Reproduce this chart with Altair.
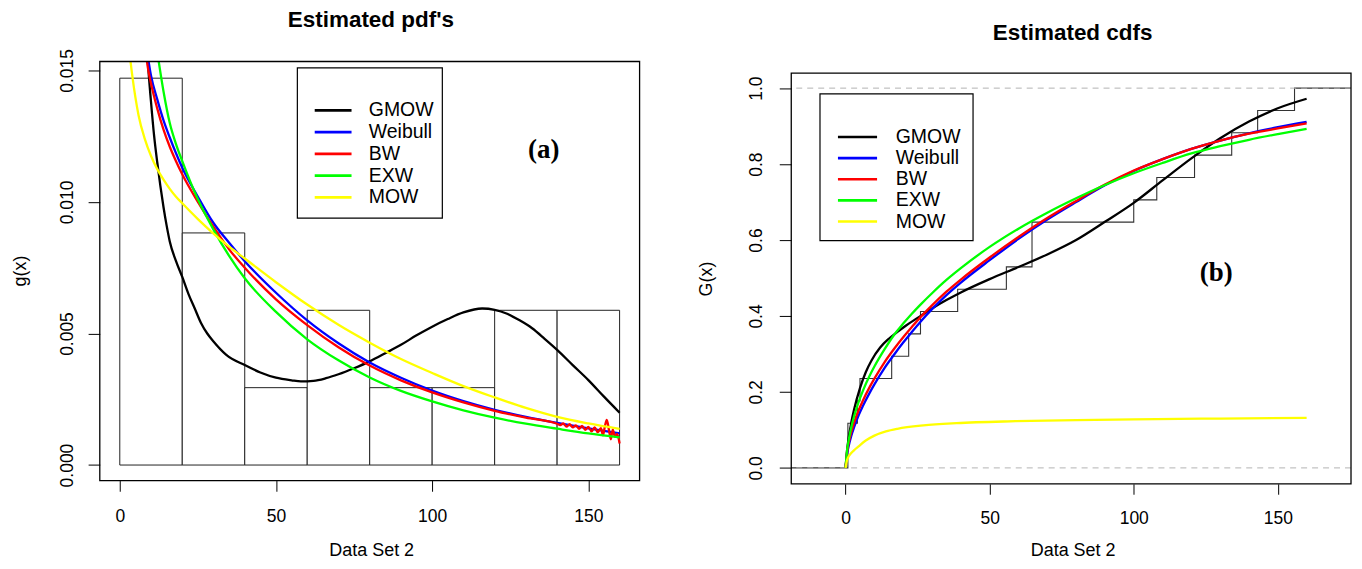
import altair as alt
import pandas as pd

FONT = "Liberation Sans"
SERIF = "Liberation Serif"

SERIES = ["GMOW", "Weibull", "BW", "EXW", "MOW"]
COLORS = ["#000000", "#0000ff", "#ff0000", "#00ff00", "#ffff00"]

# Data Set 2 (n = 17), read from the empirical cdf steps
sample = [0.8, 0.8, 4.1, 5.0, 16.0, 21.9, 26.0, 38.9, 55.8, 64.7, 64.7,
          100.0, 108.0, 121.1, 134.0, 143.0, 155.8]
bin_edges = [0, 20, 40, 60, 80, 100, 120, 140, 160]

# ---- estimated pdf curves (panel a) ----
pdf_gmow_x = [6, 8, 9, 10, 11, 12, 13, 14, 15, 16, 18, 20, 22, 24, 26, 28, 30, 34, 40, 45, 50, 55,
              58, 62, 66, 70, 75, 80, 85, 90, 95, 100, 105, 110, 116, 120, 124, 128, 132, 136,
              140, 145, 150, 155, 160]
pdf_gmow_y = [0.0220, 0.0175, 0.0153, 0.0138, 0.0125, 0.0115, 0.0106, 0.0098, 0.0091, 0.0085,
              0.00775, 0.00715, 0.0065, 0.00595, 0.0054, 0.0050, 0.0047, 0.0042, 0.0038, 0.00352,
              0.00332, 0.00322, 0.00318, 0.0032, 0.0033, 0.00345, 0.00368, 0.00394, 0.00425,
              0.00457, 0.00493, 0.00526, 0.00555, 0.0058, 0.00595, 0.0059, 0.00575, 0.0055,
              0.0052, 0.0048, 0.00438, 0.0038, 0.00323, 0.0026, 0.00199]

pdf_weib_x = [8, 9, 10, 12, 14, 16, 18, 20, 25, 30, 35, 40, 50, 60, 70, 80, 90, 100, 110, 120,
              130, 140, 150, 160]
pdf_weib_y = [0.0162, 0.0155, 0.0148, 0.0139, 0.0131, 0.01245, 0.01185, 0.0113, 0.0102, 0.0092,
              0.00845, 0.00775, 0.00655, 0.0055, 0.00463, 0.0039, 0.00332, 0.00283, 0.00243,
              0.0021, 0.00183, 0.0016, 0.00139, 0.0012]

pdf_bw_x = [8, 9, 10, 12, 14, 16, 18, 20, 25, 30, 35, 40, 50, 60, 70, 80, 90, 100, 110, 120, 130,
            140, 141, 142, 143, 144, 145, 146, 147, 148, 149, 150, 151, 152, 153, 154, 154.7,
            155.3, 155.9, 156.6, 157.2, 157.8, 158.5, 159.2, 160]
pdf_bw_y = [0.0160, 0.0151, 0.0145, 0.01355, 0.01275, 0.0121, 0.01155, 0.01105, 0.0100, 0.00905,
            0.0082, 0.0075, 0.0063, 0.00532, 0.00448, 0.00378, 0.00322, 0.00276, 0.00238,
            0.00206, 0.0018, 0.00157, 0.00152, 0.00158, 0.00146, 0.00155, 0.00143, 0.00151,
            0.00138, 0.00149, 0.00134, 0.00145, 0.00128, 0.00143, 0.00125, 0.0014, 0.00113,
            0.00148, 0.00172, 0.00133, 0.00098, 0.00135, 0.00108, 0.00118, 0.00082]

pdf_exw_x = [11, 12, 14, 16, 18, 20, 25, 30, 35, 40, 50, 60, 70, 80, 90, 100, 110, 120, 130, 140,
             150, 160]
pdf_exw_y = [0.0165, 0.0157, 0.0142, 0.0130, 0.0122, 0.01155, 0.0101, 0.00895, 0.00795, 0.0071,
             0.00582, 0.00478, 0.00398, 0.00333, 0.00282, 0.00242, 0.00208, 0.0018, 0.00157,
             0.00138, 0.0012, 0.00105]

pdf_mow_x = [2, 3, 4, 6, 8, 10, 12, 14, 16, 18, 20, 25, 30, 35, 40, 50, 60, 70, 80, 90, 100, 110,
             120, 130, 140, 150, 160]
pdf_mow_y = [0.0170, 0.0158, 0.0148, 0.0133, 0.0124, 0.01175, 0.01125, 0.01085, 0.0105, 0.0102,
             0.00995, 0.00935, 0.0088, 0.0083, 0.00785, 0.00695, 0.0061, 0.00533, 0.00465,
             0.00403, 0.0035, 0.003, 0.00257, 0.00217, 0.00183, 0.00158, 0.00137]

# ---- estimated cdf curves (panel b) ----
cdf_gmow_x = [0, 0.5, 1, 2, 3, 5, 7, 9, 12, 15, 18, 21, 25, 30, 35, 40, 50, 60, 70, 80, 90, 100,
              110, 120, 130, 140, 150, 160]
cdf_gmow_y = [0, 0.045, 0.075, 0.12, 0.155, 0.21, 0.252, 0.283, 0.317, 0.34, 0.358, 0.375, 0.395,
              0.42, 0.442, 0.462, 0.497, 0.529, 0.562, 0.6, 0.648, 0.698, 0.757, 0.815, 0.868,
              0.912, 0.947, 0.972]

cdf_weib_x = [0, 0.5, 1, 2, 3, 4.6, 6, 8.3, 10, 13.5, 17, 20, 23, 26, 30, 35, 40, 50, 60, 70, 80,
              90, 100, 110, 120, 130, 140, 150, 160]
cdf_weib_y = [0, 0.035, 0.055, 0.085, 0.108, 0.14, 0.163, 0.197, 0.22, 0.263, 0.30, 0.33, 0.358,
              0.385, 0.418, 0.455, 0.488, 0.547, 0.603, 0.654, 0.70, 0.744, 0.782, 0.813, 0.84,
              0.862, 0.881, 0.897, 0.911]

cdf_bw_x = cdf_weib_x
cdf_bw_y = [0, 0.04, 0.063, 0.095, 0.12, 0.153, 0.177, 0.212, 0.235, 0.278, 0.315, 0.344, 0.371,
            0.397, 0.428, 0.464, 0.496, 0.554, 0.608, 0.658, 0.703, 0.746, 0.783, 0.813, 0.84,
            0.862, 0.88, 0.894, 0.907]

cdf_exw_x = cdf_weib_x
cdf_exw_y = [0, 0.045, 0.07, 0.108, 0.137, 0.175, 0.203, 0.242, 0.267, 0.312, 0.352, 0.38, 0.406,
             0.43, 0.46, 0.495, 0.526, 0.582, 0.63, 0.672, 0.71, 0.745, 0.776, 0.803, 0.828,
             0.847, 0.864, 0.879, 0.893]

cdf_mow_x = [0, 0.5, 1.5, 3, 4.4, 7, 10, 14, 18, 27, 38.5, 59, 80, 100, 130, 160]
cdf_mow_y = [0, 0.02, 0.035, 0.047, 0.056, 0.072, 0.085, 0.096, 0.103, 0.112, 0.118, 0.123,
             0.126, 0.128, 0.13, 0.132]

pdf_curves = [(pdf_gmow_x, pdf_gmow_y), (pdf_weib_x, pdf_weib_y), (pdf_bw_x, pdf_bw_y),
              (pdf_exw_x, pdf_exw_y), (pdf_mow_x, pdf_mow_y)]
cdf_curves = [(cdf_gmow_x, cdf_gmow_y), (cdf_weib_x, cdf_weib_y), (cdf_bw_x, cdf_bw_y),
              (cdf_exw_x, cdf_exw_y), (cdf_mow_x, cdf_mow_y)]

# ---------------- layout constants ----------------
W1, H1 = 541, 420
W2, H2 = 561, 423.3
TOP2 = 11.7  # frame top of panel b inside its view
X1DOM = [-6.4, 166.4]
Y1DOM = [-0.00059, 0.01534]
X2DOM = [-18.85, 175.4]
Y2DOM = [-0.042, 1.0394]

one = pd.DataFrame({"k": [0]})
NOVIEW = alt.ViewBackground(stroke="transparent", strokeWidth=0)


def axis_x(title_x, title_y, tick, pad):
    return alt.Axis(values=[0, 50, 100, 150], title="Data Set 2", grid=False, domain=False,
                    tickSize=tick, tickColor="black", tickWidth=1, labelFont=FONT,
                    labelFontSize=17.5, labelColor="black", labelPadding=pad, labelFlush=False,
                    labelOverlap=False, titleFont=FONT, titleFontSize=18,
                    titleFontWeight="normal", titleColor="black", titleX=title_x,
                    titleY=title_y, titleAlign="center", titleBaseline="middle")


def axis_y(vals, fmt, title, title_x, title_y, tick, pad):
    return alt.Axis(values=vals, format=fmt, title=title, grid=False, domain=False,
                    tickSize=tick, tickColor="black", tickWidth=1, labelFont=FONT,
                    labelFontSize=17.5, labelColor="black", labelAngle=270, labelAlign="center",
                    labelBaseline="bottom", labelPadding=pad, labelOverlap=False,
                    titleFont=FONT, titleFontSize=18, titleFontWeight="normal",
                    titleColor="black", titleAngle=270, titleX=title_x, titleY=title_y,
                    titleAlign="center", titleBaseline="middle")


def text_mark(x, y, s, size, weight="normal", font=FONT, align="center"):
    return alt.Chart(one).mark_text(font=font, fontSize=size, fontWeight=weight, align=align,
                                    baseline="middle", color="black").encode(
        x=alt.value(x), y=alt.value(y), text=alt.value(s))


def legend_layers(bx1, bx2, by1, by2, lx1, lx2, tx, row0, step):
    out = [alt.Chart(one).mark_rect(fill="white", stroke="black", strokeWidth=1.2).encode(
        x=alt.value(bx1), x2=alt.value(bx2), y=alt.value(by1), y2=alt.value(by2))]
    for i, (name, col) in enumerate(zip(SERIES, COLORS)):
        ry = row0 + i * step
        out.append(alt.Chart(one).mark_rule(color=col, strokeWidth=2.6).encode(
            x=alt.value(lx1), x2=alt.value(lx2), y=alt.value(ry)))
        out.append(text_mark(tx, ry, name, 19.5, align="left"))
    return out


def frame(w, y1, y2):
    return alt.Chart(one).mark_rect(fillOpacity=0, stroke="black", strokeWidth=1.3).encode(
        x=alt.value(0), x2=alt.value(w), y=alt.value(y1), y2=alt.value(y2))


# ---------------- panel (a): pdfs ----------------
xs1 = alt.Scale(domain=X1DOM, nice=False, zero=False)
ys1 = alt.Scale(domain=Y1DOM, nice=False, zero=False)
ax1 = axis_x(272, 70, 10.7, 16)
ay1 = axis_y([0, 0.005, 0.01, 0.015], ".3f", "g(x)", -79.5, 209.5, 11.7, 12)

n = len(sample)
lo = bin_edges[:-1]
hi = bin_edges[1:]
dens = [sum(1 for v in sample if (a < v <= b) or (a == 0 and v == 0)) / (n * (b - a))
        for a, b in zip(lo, hi)]
hist_df = pd.DataFrame({"x": lo, "x2": hi, "y": dens, "y2": [0.0] * len(lo)})

hist = alt.Chart(hist_df).mark_rect(fill="white", stroke="#222222", strokeWidth=1).encode(
    x=alt.X("x:Q", scale=xs1, axis=ax1), x2="x2:Q",
    y=alt.Y("y:Q", scale=ys1, axis=ay1), y2="y2:Q")

pdf_lines = []
for (cx, cy), col in zip(pdf_curves, COLORS):
    pdf_lines.append(alt.Chart(pd.DataFrame({"x": cx, "y": cy})).mark_line(
        color=col, strokeWidth=2.3, clip=True, interpolate="monotone").encode(
        x=alt.X("x:Q", scale=xs1, axis=ax1), y=alt.Y("y:Q", scale=ys1, axis=ay1)))

left = alt.layer(
    hist, *pdf_lines,
    *legend_layers(198, 343.3, 6.4, 157, 215.4, 252.3, 269.6, 49, 21.8),
    text_mark(271.7, -42, "Estimated pdf's", 22.5, weight="bold"),
    text_mark(445, 89, "(a)", 27, weight="bold", font=SERIF),
    frame(W1, 0, H1),
).properties(width=W1, height=H1, view=NOVIEW)

# ---------------- panel (b): cdfs ----------------
xs2 = alt.Scale(domain=X2DOM, nice=False, zero=False)
ys2 = alt.Scale(domain=Y2DOM, range=[H2, TOP2], nice=False, zero=False)
ax2 = axis_x(282, 66.7, 10.4, 15.5)
ay2 = axis_y([0, 0.2, 0.4, 0.6, 0.8, 1.0], ".1f", "G(x)", -85, 217.5, 12, 13.4)

uniq = sorted(set(sample))
Fn = [sum(1 for v in sample if v <= u) / n for u in uniq]
ecdf_df = pd.DataFrame({"x": [X2DOM[0]] + uniq + [X2DOM[1]], "y": [0.0] + Fn + [1.0]})
ecdf = alt.Chart(ecdf_df).mark_line(interpolate="step-after", color="#333333",
                                    strokeWidth=1.1).encode(
    x=alt.X("x:Q", scale=xs2, axis=ax2), y=alt.Y("y:Q", scale=ys2, axis=ay2))

hlines = alt.Chart(pd.DataFrame({"y": [0.0, 1.0]})).mark_rule(
    color="#b3b3b3", strokeDash=[6, 5], strokeWidth=1).encode(
    y=alt.Y("y:Q", scale=ys2, axis=ay2))

cdf_lines = []
for (cx, cy), col in zip(cdf_curves, COLORS):
    cdf_lines.append(alt.Chart(pd.DataFrame({"x": cx, "y": cy})).mark_line(
        color=col, strokeWidth=2.3, clip=True, interpolate="monotone").encode(
        x=alt.X("x:Q", scale=xs2, axis=ax2), y=alt.Y("y:Q", scale=ys2, axis=ay2)))

right = alt.layer(
    ecdf, hlines, *cdf_lines,
    *legend_layers(28.8, 182.2, 32.5, 179.5, 46.8, 86, 104.7, 75.6, 21.2),
    text_mark(282, -29, "Estimated cdfs", 22.5, weight="bold"),
    text_mark(426, 212.3, "(b)", 27, weight="bold", font=SERIF),
    frame(W2, TOP2, H2),
).properties(width=W2, height=H2, view=NOVIEW)

chart = alt.hconcat(left, right, spacing=152, bounds="flush").properties(
    padding={"left": 3, "top": 0, "right": 0, "bottom": 0},
    background="white",
).configure_view(stroke="transparent", strokeWidth=0).configure(font=FONT)

chart.save("out.html", embed_options={"renderer": "svg", "actions": False})
